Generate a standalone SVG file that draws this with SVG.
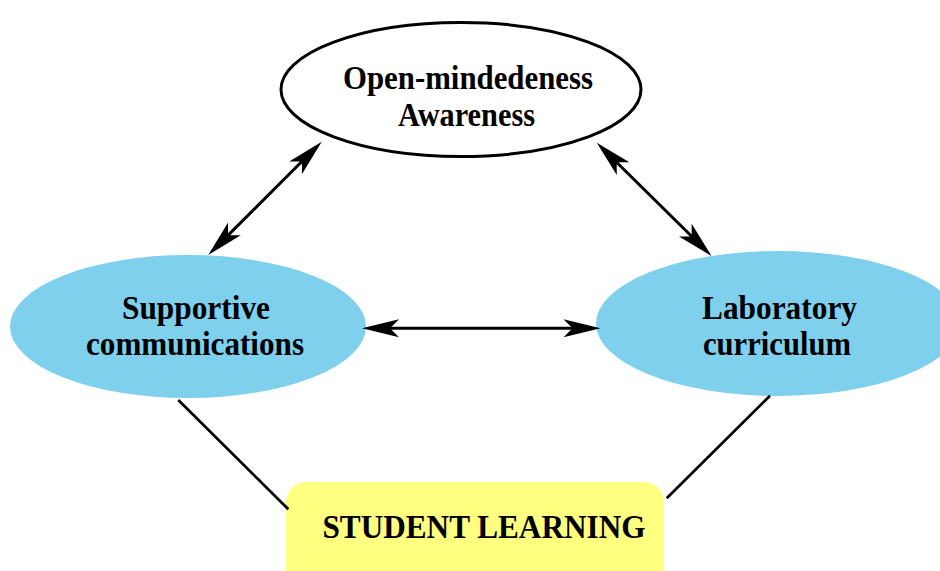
<svg xmlns="http://www.w3.org/2000/svg" width="940" height="571" viewBox="0 0 940 571">
<style>
.lbl{font-family:"Liberation Serif","Times New Roman",serif;font-weight:bold;font-size:34px;fill:#000;text-anchor:middle}
.blue{fill:#7ED0EC;stroke:none}
.conn{stroke:#000;stroke-width:3;fill:none}
.plain{stroke:#000;stroke-width:2.7;fill:none}
</style>
<defs>
<marker id="ah" viewBox="0 0 37 18" refX="17" refY="9" markerWidth="37" markerHeight="18" markerUnits="userSpaceOnUse" orient="auto-start-reverse" overflow="visible">
<path d="M37,9 L0,0 L9,9 L0,18 Z" fill="#000"/>
</marker>
</defs>
<rect width="940" height="571" fill="#fff"/>
<g id="node-open">
<ellipse cx="461" cy="89.5" rx="180" ry="67" fill="#fff" stroke="#000" stroke-width="3"/>
<text class="lbl" x="468" y="89" textLength="250" lengthAdjust="spacingAndGlyphs">Open-mindedeness</text>
<text class="lbl" x="466.5" y="125.5" textLength="137" lengthAdjust="spacingAndGlyphs">Awareness</text>
</g>
<g id="node-supportive">
<ellipse class="blue" cx="188" cy="326.5" rx="178" ry="71.5"/>
<text class="lbl" x="196" y="319" textLength="148" lengthAdjust="spacingAndGlyphs">Supportive</text>
<text class="lbl" x="195" y="355" textLength="218" lengthAdjust="spacingAndGlyphs">communications</text>
</g>
<g id="node-laboratory">
<ellipse class="blue" cx="778" cy="323.5" rx="182" ry="72.5"/>
<text class="lbl" x="779.5" y="319" textLength="155" lengthAdjust="spacingAndGlyphs">Laboratory</text>
<text class="lbl" x="777" y="355" textLength="148" lengthAdjust="spacingAndGlyphs">curriculum</text>
</g>
<g id="node-student">
<rect x="286" y="482" width="378" height="120" rx="20" ry="20" fill="#FFFF80"/>
<text class="lbl" x="484" y="538" style="font-size:33px" textLength="323" lengthAdjust="spacingAndGlyphs">STUDENT LEARNING</text>
</g>
<g id="connectors">
<line class="conn" x1="222.4" y1="240.9" x2="307.6" y2="155.8" marker-start="url(#ah)" marker-end="url(#ah)"/>
<line class="conn" x1="611" y1="156.7" x2="697.4" y2="242" marker-start="url(#ah)" marker-end="url(#ah)"/>
<line class="conn" x1="382" y1="328.3" x2="580.5" y2="328.3" marker-start="url(#ah)" marker-end="url(#ah)"/>
<line class="plain" x1="178.3" y1="400" x2="288.3" y2="509.3"/>
<line class="plain" x1="770" y1="395.7" x2="666.7" y2="498.3"/>
</g>
</svg>
